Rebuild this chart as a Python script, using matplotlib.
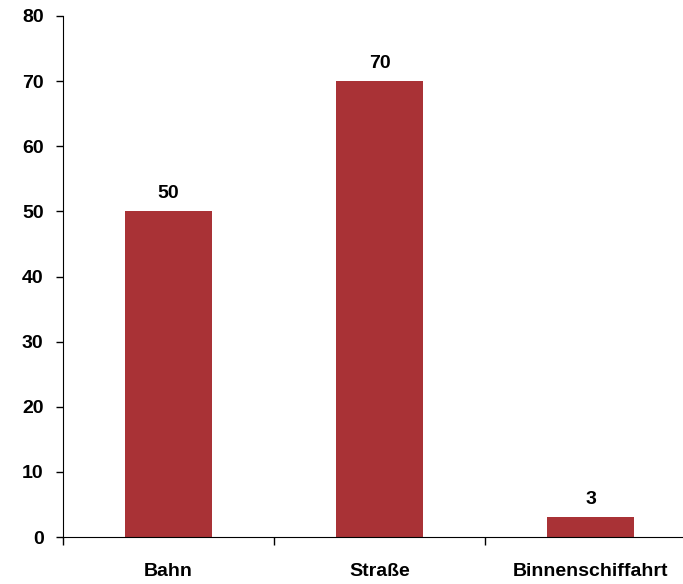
import numpy as np
import matplotlib.pyplot as plt

plt.rcParams['font.family'] = ['Liberation Sans', 'DejaVu Sans']

categories = ["Bahn", "Straße", "Binnenschiffahrt"]
values = [50, 70, 3]
bar_color = "#A93236"

fig = plt.figure(figsize=(6.83, 5.84), dpi=100)
ax = fig.add_axes([63 / 683, 47 / 584, 633 / 683, 521 / 584])

x = np.arange(len(categories))
bars = ax.bar(x, values, width=0.41, color=bar_color, zorder=2)

for xi, v in zip(x, values):
    ax.annotate(str(v), (xi, v), xytext=(0, 6.5), textcoords="offset points",
                ha="center", va="bottom", fontsize=14, fontweight="bold")

ax.set_xlim(-0.5, 2.5)
ax.set_ylim(0, 80)
ax.set_yticks(np.arange(0, 81, 10))
ax.set_xticks(np.arange(-0.5, 3, 1.0))
ax.set_xticklabels([])
ax.set_xticks(x, minor=True)
ax.set_xticklabels(categories, minor=True, fontsize=14, fontweight="bold")
ax.tick_params(axis="x", which="major", length=6, width=1, direction="out")
ax.tick_params(axis="x", which="minor", length=0, pad=18.5)
ax.tick_params(axis="y", length=5, width=1, pad=9, labelsize=14)
for lab in ax.get_yticklabels():
    lab.set_fontweight("bold")

ax.spines["top"].set_visible(False)
ax.spines["right"].set_visible(False)

fig.savefig("out.png", dpi=100)
